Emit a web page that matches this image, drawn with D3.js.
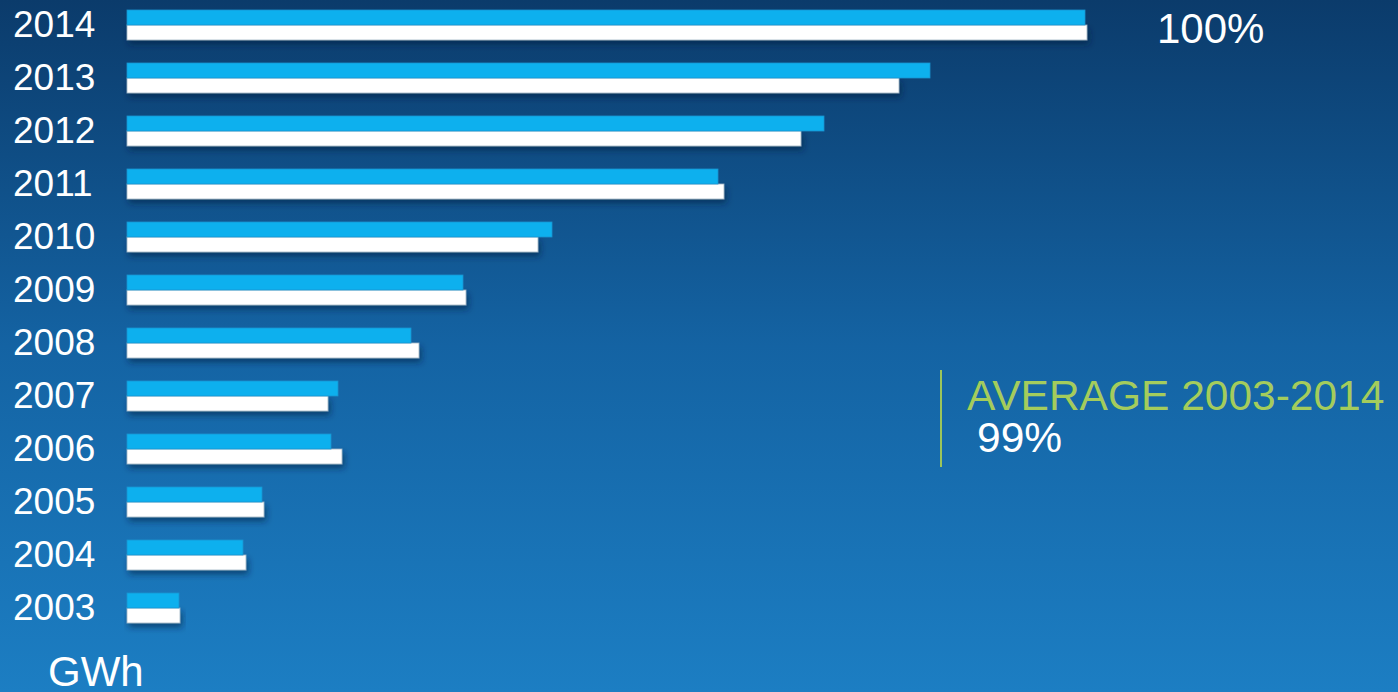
<!DOCTYPE html>
<html>
<head>
<meta charset="utf-8">
<script src="https://cdn.jsdelivr.net/npm/d3@7"></script>
<style>
  html, body { margin: 0; padding: 0; overflow: hidden; }
  svg { display: block; font-family: "Liberation Sans", Arial, sans-serif; }
</style>
</head>
<body>
<svg id="chart"></svg>
<script>
// years, top to bottom
const years = ["2014", "2013", "2012", "2011", "2010", "2009", "2008", "2007", "2006", "2005", "2004", "2003"];
// blue (upper) bar per year, GWh
const blueValues = [958, 803, 697, 591, 425, 336, 284, 211, 204, 135, 116, 52];
// white (lower) bar per year, GWh
const whiteValues = [960, 772, 674, 597, 411, 339, 292, 201, 215, 137, 119, 53];
const unitLabel = "GWh";
const topLabel = "100%";
const avgTitle = "AVERAGE 2003-2014";
const avgValue = "99%";

const width = 1398, height = 692;

const svg = d3.select("#chart")
  .attr("width", width)
  .attr("height", height);

const defs = svg.append("defs");

const grad = defs.append("linearGradient")
  .attr("id", "bg")
  .attr("x1", 0).attr("y1", 0).attr("x2", 0).attr("y2", 1);
grad.append("stop").attr("offset", "0%").attr("stop-color", "#0b3b6b");
grad.append("stop").attr("offset", "50%").attr("stop-color", "#1463a3");
grad.append("stop").attr("offset", "100%").attr("stop-color", "#1c7ec3");

const shadow = defs.append("filter")
  .attr("id", "shadow")
  .attr("x", "-5%").attr("y", "-50%")
  .attr("width", "115%").attr("height", "250%");
shadow.append("feDropShadow")
  .attr("dx", 2).attr("dy", 4)
  .attr("stdDeviation", 3)
  .attr("flood-color", "#05203d")
  .attr("flood-opacity", 0.55);

svg.append("rect")
  .attr("width", width)
  .attr("height", height)
  .attr("fill", "url(#bg)");

// scales
const x = d3.scaleLinear()
  .domain([0, 960])
  .range([127, 1087]);

const y = d3.scaleBand()
  .domain(years)
  .range([-1.5, 634.5])
  .paddingInner(0.434)
  .paddingOuter(0.217);

const barH = y.bandwidth() / 2;

const rows = svg.selectAll(".row")
  .data(years)
  .enter()
  .append("g")
  .attr("class", "row")
  .attr("transform", d => "translate(0," + y(d) + ")");

// white bars first so the blue bar sits over its shadow
rows.append("rect")
  .attr("x", x(0))
  .attr("y", barH)
  .attr("width", (d, i) => x(whiteValues[i]) - x(0))
  .attr("height", barH)
  .attr("fill", "#ffffff")
  .attr("stroke", "#9fb3c4")
  .attr("stroke-width", 0.8)
  .attr("filter", "url(#shadow)");

rows.append("rect")
  .attr("x", x(0))
  .attr("y", 0)
  .attr("width", (d, i) => x(blueValues[i]) - x(0))
  .attr("height", barH)
  .attr("fill", "#0db0ee")
  .attr("stroke", "#1a94cf")
  .attr("stroke-width", 0.8);

// year labels
rows.append("text")
  .attr("x", 13)
  .attr("y", barH + 12)
  .attr("fill", "#ffffff")
  .attr("font-size", 37)
  .text(d => d);

svg.append("text")
  .attr("x", 48)
  .attr("y", 686)
  .attr("fill", "#ffffff")
  .attr("font-size", 42)
  .text(unitLabel);

svg.append("text")
  .attr("x", 1157)
  .attr("y", 43)
  .attr("fill", "#ffffff")
  .attr("font-size", 42)
  .text(topLabel);

svg.append("line")
  .attr("x1", 941).attr("x2", 941)
  .attr("y1", 370).attr("y2", 467)
  .attr("stroke", "#9cc55a")
  .attr("stroke-width", 2);

svg.append("text")
  .attr("x", 967)
  .attr("y", 410)
  .attr("fill", "#a4cc5c")
  .attr("font-size", 42.5)
  .text(avgTitle);

svg.append("text")
  .attr("x", 977)
  .attr("y", 452)
  .attr("fill", "#ffffff")
  .attr("font-size", 42.5)
  .text(avgValue);
</script>
</body>
</html>
